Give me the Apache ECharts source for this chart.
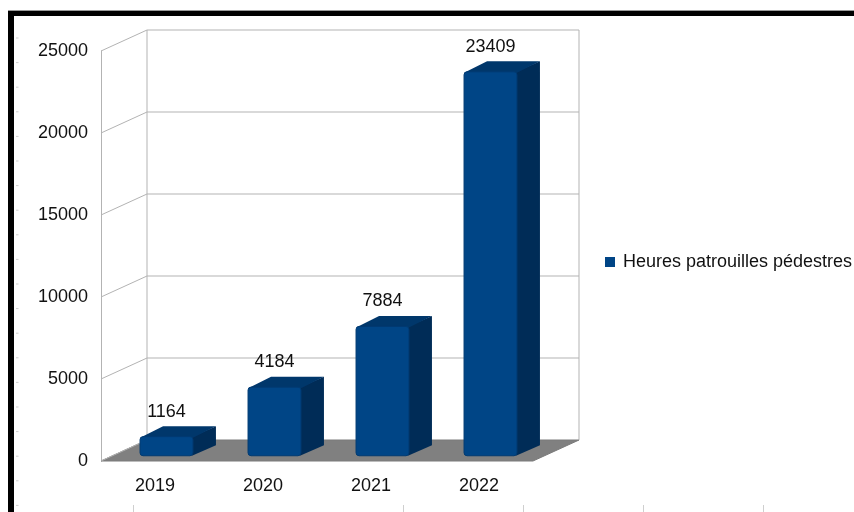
<!DOCTYPE html>
<html>
<head>
<meta charset="utf-8">
<script src="https://cdn.jsdelivr.net/npm/echarts@6/dist/echarts.min.js"></script>
<style>html,body{margin:0;padding:0;background:#fff;}#c{width:854px;height:512px;}</style>
</head>
<body>
<div id="c"></div>
<script>
var categories = ['2019', '2020', '2021', '2022'];
var values = [1164, 4184, 7884, 23409];
var yTicks = [0, 5000, 10000, 15000, 20000, 25000];
var seriesName = 'Heures patrouilles pédestres';

var DX = 46, DY = -21;        // depth offset of the back wall
var FONT = 'Liberation Sans';
var FS = 18;
var GRID_COL = '#b3b3b3';

var chart = echarts.init(document.getElementById('c'), null, {renderer: 'canvas'});

var decor = [];
// window border (top + left)
decor.push({type: 'rect', shape: {x: 8, y: 10, width: 846, height: 1}, style: {fill: '#9a9a9a'}, silent: true});
decor.push({type: 'rect', shape: {x: 8, y: 11, width: 846, height: 5}, style: {fill: '#000'}, silent: true});
decor.push({type: 'rect', shape: {x: 8, y: 11, width: 6, height: 501}, style: {fill: '#000'}, silent: true});
// faint ruler marks
for (var k = 0; k < 20; k++) {
  var yy = 38 + k * 24.6;
  decor.push({type: 'line', shape: {x1: 16, y1: yy, x2: 18.5, y2: yy}, style: {stroke: '#cfcfcf', lineWidth: 1}, silent: true});
}
[133, 403, 523, 643, 763].forEach(function (xx) {
  decor.push({type: 'line', shape: {x1: xx + 0.5, y1: 505, x2: xx + 0.5, y2: 512}, style: {stroke: '#cfcfcf', lineWidth: 1}, silent: true});
});

var option = {
  backgroundColor: '#ffffff',
  animation: false,
  textStyle: {fontFamily: FONT},
  graphic: decor,
  legend: {
    data: [{name: seriesName, icon: 'rect'}],
    left: 605, top: 253, padding: 0,
    itemWidth: 10, itemHeight: 10, itemGap: 6,
    textStyle: {fontFamily: FONT, fontSize: FS, color: '#111', padding: [0, 0, 0, 3]},
    selectedMode: false
  },
  grid: {left: 101, top: 51, width: 432, height: 410},
  xAxis: {
    type: 'category', data: categories,
    axisLine: {show: false}, axisTick: {show: false},
    axisLabel: {fontFamily: FONT, fontSize: FS, color: '#111', margin: 16}
  },
  yAxis: {
    type: 'value', min: 0, max: 25000, interval: 5000,
    axisLine: {show: true, lineStyle: {color: GRID_COL, width: 1}},
    axisTick: {show: false},
    splitLine: {show: false},
    axisLabel: {fontFamily: FONT, fontSize: FS, color: '#111', margin: 13,
      formatter: function (v) { return String(v); }}
  },
  series: [
    {
      // floor + wall edges
      type: 'custom', name: 'walls', silent: true, z: 1,
      data: [[0, 0]],
      renderItem: function (params, api) {
        var cs = params.coordSys;
        var x0 = cs.x, x1 = cs.x + cs.width;
        var y0 = api.coord([0, yTicks[0]])[1];
        var yTop = api.coord([0, yTicks[yTicks.length - 1]])[1];
        var ch = [];
        ch.push({type: 'polygon', shape: {points: [[x0, y0], [x1, y0], [x1 + DX, y0 + DY], [x0 + DX, y0 + DY]]},
          style: {fill: '#808080', stroke: '#7a7a7a', lineWidth: 1}});
        ch.push({type: 'line', shape: {x1: x0 + DX, y1: yTop + DY, x2: x0 + DX, y2: y0 + DY}, style: {stroke: GRID_COL, lineWidth: 1}});
        ch.push({type: 'line', shape: {x1: x1 + DX, y1: yTop + DY, x2: x1 + DX, y2: y0 + DY}, style: {stroke: GRID_COL, lineWidth: 1}});
        yTicks.forEach(function (v) {
          var y = api.coord([0, v])[1];
          if (v !== yTicks[0]) {
            ch.push({type: 'line', shape: {x1: x0 + DX, y1: y + DY, x2: x1 + DX, y2: y + DY}, style: {stroke: GRID_COL, lineWidth: 1}});
          }
          ch.push({type: 'line', shape: {x1: x0, y1: y, x2: x0 + DX, y2: y + DY}, style: {stroke: GRID_COL, lineWidth: 1}});
        });
        return {type: 'group', children: ch};
      }
    },
    {
      type: 'custom', name: seriesName, z: 3,
      itemStyle: {color: '#004586'},
      encode: {x: 0, y: 1},
      data: values.map(function (v, i) { return [i, v]; }),
      renderItem: function (params, api) {
        var idx = api.value(0), v = api.value(1);
        var base = api.coord([idx, 0]);
        var top = api.coord([idx, v]);
        var band = api.size([1, 0])[0];
        var w = band * 0.49;
        var ox = DX * 0.25, oy = DY * 0.25;
        var bx = DX * 0.5, by = DY * 0.5;
        var fx0 = base[0] + ox - w / 2, fx1 = fx0 + w;
        var tY = top[1] + oy, bY = base[1] + oy;
        return {
          type: 'group',
          children: [
            {type: 'polygon', shape: {points: [[fx1 - 1, tY], [fx1 + bx, tY + by], [fx1 + bx, bY + by], [fx1 - 1, bY]]},
              style: {fill: '#002c57'}},
            {type: 'polygon', shape: {points: [[fx0, tY + 1], [fx1, tY + 1], [fx1 + bx, tY + by], [fx0 + bx, tY + by]]},
              style: {fill: '#00376b'}},
            {type: 'rect', shape: {x: fx0, y: tY, width: w, height: bY - tY, r: 3},
              style: {fill: '#004586', stroke: '#003a72', lineWidth: 1}},
            {type: 'text', x: fx0 + w / 2, y: tY - 25,
              style: {text: String(v), fill: '#111', font: FS + 'px "Liberation Sans"', align: 'center', verticalAlign: 'middle'}}
          ]
        };
      }
    }
  ]
};
chart.setOption(option);
</script>
</body>
</html>
